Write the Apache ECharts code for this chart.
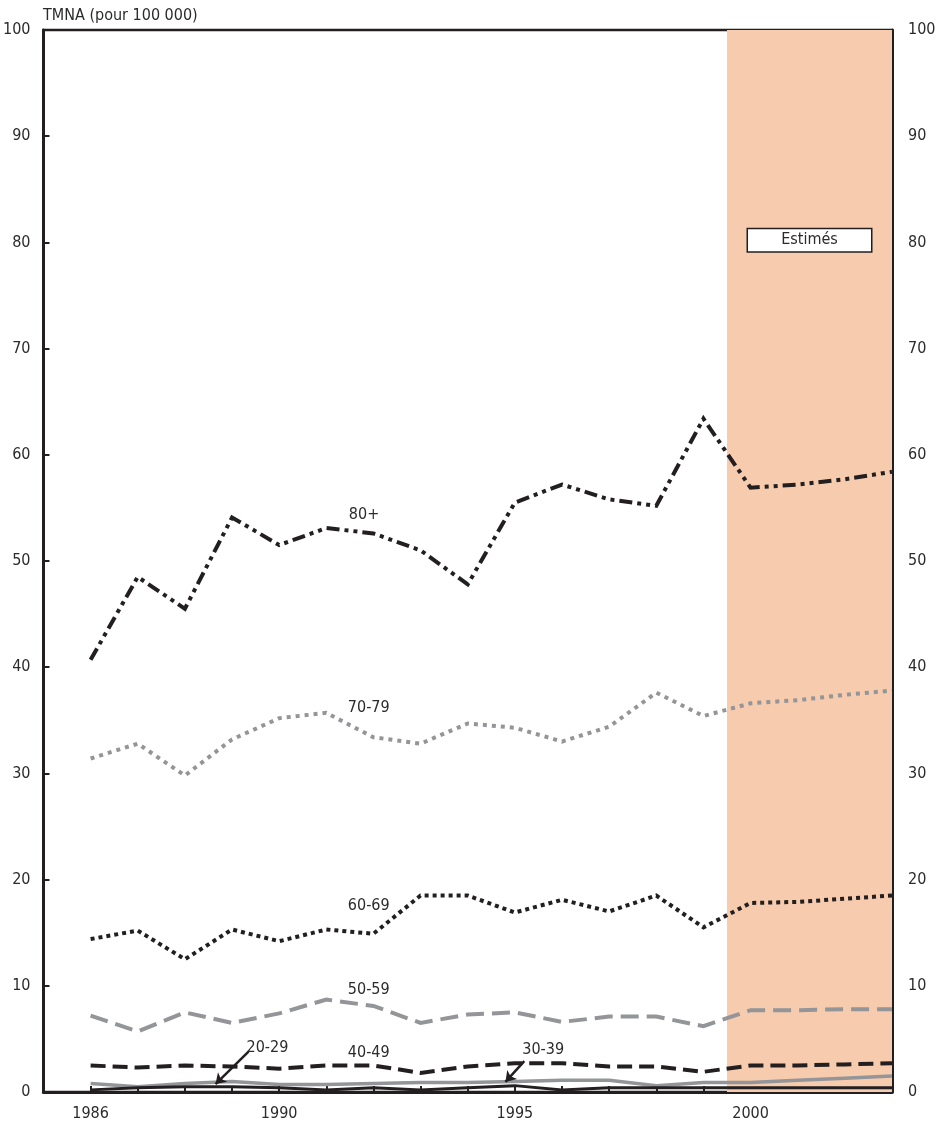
<!DOCTYPE html>
<html>
<head>
<meta charset="utf-8">
<script src="https://cdn.jsdelivr.net/npm/echarts@6/dist/echarts.min.js"></script>
<style>
html,body{margin:0;padding:0;background:#fff;}
#chart{width:943px;height:1130px;}
</style>
</head>
<body>
<div id="chart"></div>
<script>
// ---- Data ----
const years = [1986,1987,1988,1989,1990,1991,1992,1993,1994,1995,1996,1997,1998,1999,2000,2001,2002,2003];
const age80plus = [40.7,48.5,45.5,54.1,51.5,53.1,52.6,51.0,47.8,55.5,57.2,55.8,55.2,63.4,56.9,57.2,57.7,58.4];
const age70_79 = [31.4,32.8,29.8,33.2,35.2,35.7,33.4,32.8,34.7,34.3,33.0,34.4,37.6,35.4,36.6,36.9,37.4,37.8];
const age60_69 = [14.4,15.2,12.5,15.3,14.2,15.3,14.9,18.5,18.5,16.9,18.1,17.0,18.5,15.5,17.8,17.9,18.2,18.5];
const age50_59 = [7.2,5.7,7.5,6.5,7.4,8.7,8.1,6.5,7.3,7.5,6.6,7.1,7.1,6.2,7.7,7.7,7.8,7.8];
const age40_49 = [2.5,2.3,2.5,2.4,2.2,2.5,2.5,1.8,2.4,2.7,2.7,2.4,2.4,1.9,2.5,2.5,2.6,2.7];
const age30_39 = [0.8,0.5,0.8,1.0,0.7,0.7,0.8,0.9,0.9,1.0,1.1,1.1,0.6,0.9,0.9,1.1,1.3,1.5];
const age20_29 = [0.2,0.4,0.5,0.5,0.4,0.2,0.4,0.2,0.4,0.6,0.2,0.4,0.4,0.4,0.4,0.4,0.4,0.4];
const xLabelYears = [1986,1990,1995,2000];
const estimateStart = 1999.5, estimateEnd = 2003;
const yTitle = 'TMNA (pour 100 000)';
const estimateLabel = 'Estimés';
const seriesLabels = ['80+','70-79','60-69','50-59','40-49','20-29','30-39'];

// ---- Styles ----
const BLACK = '#231f20', GRAY = '#939598', SHADE = '#f7cbad', TEXT = '#2b2b2b';
const FONT = "'Liberation Sans Narrow','DejaVu Sans Condensed','Roboto Condensed','Liberation Sans',sans-serif";

function pairs(arr){ return years.map((y,i)=>[y,arr[i]]); }

function lineSeries(name, arr, color, width, dash, z){
  return {
    name, type:'line', data:pairs(arr), showSymbol:false, symbol:'none', z,
    lineStyle:{color, width, type:dash, cap:'butt', join:'miter'},
    silent:true, animation:false
  };
}

const labelPos = [[1991.8,54.3],[1991.9,36.2],[1991.9,17.5],[1991.9,9.6],[1991.9,3.7],[1989.75,4.2],[1995.6,4.0]];
const arrowCoords = [
  [[1989.35,3.8],[1988.65,0.75]],
  [[1995.2,2.9],[1994.8,0.95]]
];

const chart = echarts.init(document.getElementById('chart'), null, {renderer:'canvas'});

const option = {
  animation:false,
  backgroundColor:'#fff',
  textStyle:{fontFamily:FONT},
  title:{text:yTitle, left:38, top:3, textStyle:{fontFamily:FONT, fontSize:16, fontWeight:'normal', color:TEXT}},
  grid:{left:40, right:51, top:30, bottom:38, show:true, borderColor:BLACK, borderWidth:2.5, backgroundColor:'transparent', containLabel:false},
  xAxis:{
    type:'value', min:1985, max:2003, interval:1,
    axisLine:{show:true, lineStyle:{color:BLACK, width:3}},
    axisTick:{show:true, inside:true, length:6, lineStyle:{color:BLACK, width:2}},
    splitLine:{show:false},
    axisLabel:{margin:14, fontFamily:FONT, fontSize:16, color:TEXT,
      formatter:v=> xLabelYears.indexOf(v)>=0 ? String(v) : ''}
  },
  yAxis:[
    {type:'value', min:0, max:100, interval:10, position:'left',
      axisLine:{show:true, lineStyle:{color:BLACK, width:3}},
      axisTick:{show:true, inside:true, length:6, lineStyle:{color:BLACK, width:2}},
      splitLine:{show:false},
      axisLabel:{margin:13, fontFamily:FONT, fontSize:16, color:TEXT}},
    {type:'value', min:0, max:100, interval:10, position:'right',
      axisLine:{show:true, lineStyle:{color:BLACK, width:3}},
      axisTick:{show:true, inside:true, length:6, lineStyle:{color:BLACK, width:2}},
      splitLine:{show:false},
      axisLabel:{margin:16, fontFamily:FONT, fontSize:16, color:TEXT}}
  ],
  series:[
    {
      type:'line', data:[], silent:true, z:1,
      markArea:{silent:true, itemStyle:{color:SHADE, borderWidth:0, opacity:1},
        data:[[{xAxis:estimateStart},{xAxis:estimateEnd}]]}
    },
    lineSeries('30-39', age30_39, GRAY, 3.5, 'solid', 3),
    lineSeries('20-29', age20_29, BLACK, 3, 'solid', 4),
    lineSeries('40-49', age40_49, BLACK, 4, [15,7], 4),
    lineSeries('50-59', age50_59, GRAY, 4, [18,8], 3),
    lineSeries('60-69', age60_69, BLACK, 4, [4,4], 4),
    lineSeries('70-79', age70_79, GRAY, 4, [4,5], 3),
    lineSeries('80+', age80plus, BLACK, 4, [13,5,4,5,4,5], 4),
    {
      type:'scatter', symbolSize:0, silent:true, z:6,
      itemStyle:{opacity:1},
      data: seriesLabels.map((n,i)=>({name:n, value:labelPos[i]})),
      label:{show:true, position:'inside', formatter:'{b}', fontFamily:FONT, fontSize:16, color:TEXT, opacity:1}
    },
    {
      type:'lines', coordinateSystem:'cartesian2d', silent:true, z:6,
      symbol:['none','arrow'], symbolSize:10,
      lineStyle:{color:BLACK, width:2.5, opacity:1, curveness:0},
      data: arrowCoords.map(c=>({coords:c}))
    },
    {
      type:'scatter', symbolSize:0, silent:true, z:7,
      itemStyle:{opacity:1},
      data:[{name:estimateLabel, value:[2001.25,80.2]}],
      label:{show:true, position:'inside', formatter:'{b}', fontFamily:FONT, fontSize:16, color:TEXT, opacity:1,
        backgroundColor:'#ffffff', borderColor:BLACK, borderWidth:1.5,
        width:123, height:22, lineHeight:22, align:'center', verticalAlign:'middle'}
    }
  ]
};
chart.setOption(option);
</script>
</body>
</html>
